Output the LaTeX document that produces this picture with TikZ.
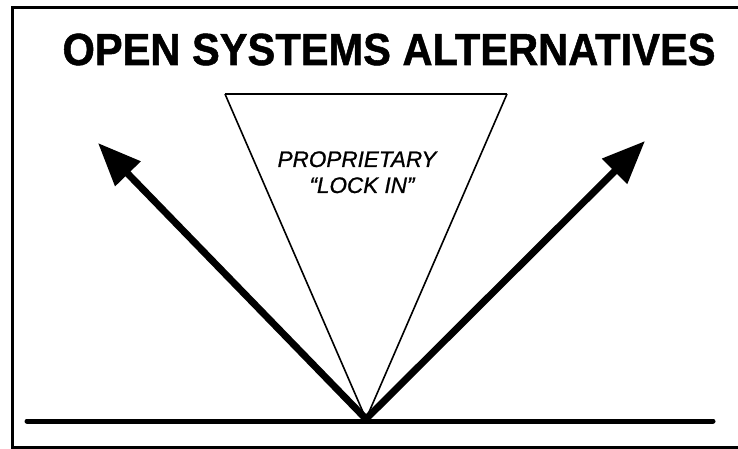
\documentclass[tikz,border=0pt]{standalone}
\usepackage{fontspec}
\setmainfont{Liberation Sans}
\newfontfamily\titlefont[FakeBold=1.2]{Liberation Sans Bold}
\newfontfamily\labelfont[FakeBold=0.8]{Liberation Sans Italic}
\usetikzlibrary{arrows.meta}
\tikzset{
  frameline/.style={line width=3pt, line cap=rect},
  baseline/.style={line width=5pt, line cap=round},
  thinline/.style={line width=1.6pt, line join=miter},
  bigarrow/.style={line width=7pt, -{Triangle[length=43pt,width=34pt]}},
  titletext/.style={inner sep=0pt, anchor=base, font=\titlefont\fontsize{45}{45}\selectfont},
  labeltext/.style={inner sep=0pt, anchor=base, font=\labelfont\fontsize{22.5}{28}\selectfont}
}
\begin{document}
\begin{tikzpicture}[x=1pt,y=-1pt]
\useasboundingbox (0,0) rectangle (738,449);
% frame (open on the right)
\draw[frameline] (738,8) -- (12,8) -- (12,447) -- (738,447);
% title
\node[titletext] (title) at (389,65) {\scalebox{0.925}[1]{OPEN SYSTEMS ALTERNATIVES}};
% key points
\coordinate (apex) at (366,419);
\coordinate (tl) at (225,94);
\coordinate (tr) at (507,94);
\coordinate (ltip) at (98,143);
\coordinate (rtip) at (645,141);
\coordinate (bl) at (27,421);
\coordinate (br) at (713,421);
% funnel
\draw[thinline] (tl) -- (apex) -- (tr);
\draw[line width=2.6pt] (tl) -- (tr);
% label
\node[labeltext] (lbl1) at (357,167) {PROPRIETARY};
\node[labeltext] (lbl2) at (362,193) {“LOCK IN”};
% arrows
\draw[bigarrow] (apex) -- (ltip);
\draw[bigarrow] (apex) -- (rtip);
% ground line
\draw[baseline] (bl) -- (br);
\end{tikzpicture}
\end{document}
